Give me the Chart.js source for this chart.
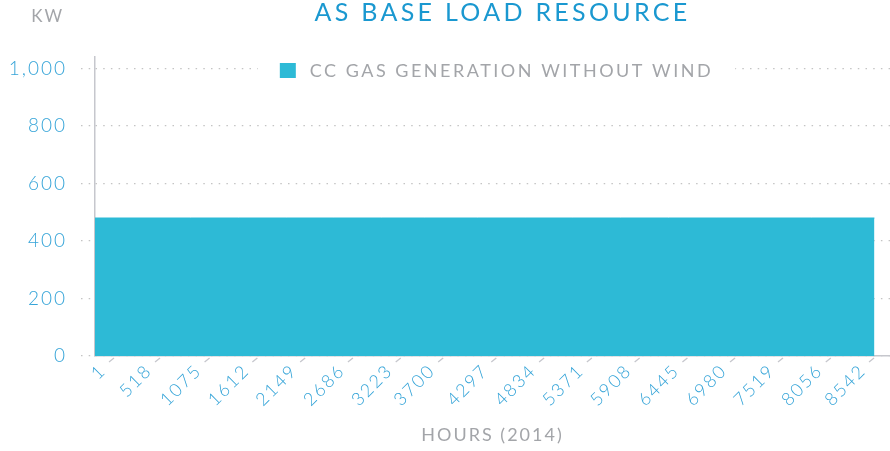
<!DOCTYPE html>
<html>
<head>
<meta charset="utf-8">
<script src="https://cdn.jsdelivr.net/npm/chart.js@4.4.1/dist/chart.umd.min.js"></script>
<style>
  html, body { margin: 0; padding: 0; background: #fff; }
</style>
</head>
<body>
<canvas id="chart" width="890" height="451"></canvas>
<script>
const chartTitle = 'AS BASE LOAD RESOURCE'
const seriesLabel = 'CC GAS GENERATION WITHOUT WIND'
const yUnit = 'KW'
const xTitle = 'HOURS (2014)'

// hour labels shown under the x axis
const hourTicks = [1, 518, 1075, 1612, 2149, 2686, 3223, 3700, 4297, 4834, 5371, 5908, 6445, 6980, 7519, 8056, 8542]
// gas generation (kW) by hour - flat all year
const hours = [1, 518, 1075, 1612, 2149, 2686, 3223, 3700, 4297, 4834, 5371, 5908, 6445, 6980, 7519, 8056, 8542, 8760]
const kw = [480, 480, 480, 480, 480, 480, 480, 480, 480, 480, 480, 480, 480, 480, 480, 480, 480, 480]
const yTicks = [0, 200, 400, 600, 800, 1000]

const FONT = 'Lato'
const AREA = '#2dbad6'
const TITLE_BLUE = '#1a98d0'
const TICK_BLUE = '#35a4d8'
const GRAY_TEXT = '#a3a5a9'
const AXIS = '#c6c7cd'
const GRID = '#c4c4c4'

// wide tracking like the original, a bit wider for the title
const spacing = {
  id: 'spacing',
  beforeLayout: chart => { chart.ctx.letterSpacing = '2px' },
  beforeDraw: chart => {
    chart.ctx.letterSpacing = '2px'
    const tb = chart.titleBlock
    if (tb && !tb._wrapped) {
      const draw = tb.draw
      tb.draw = function () {
        const ctx = this.ctx
        ctx.save()
        ctx.letterSpacing = '3.3px'
        ctx.translate(10, 0)
        draw.call(this)
        ctx.restore()
      }
      tb._wrapped = true
    }
  }
}

// legend box, unit label and the slanted x tick marks
const extras = {
  id: 'extras',
  afterDraw: chart => {
    const { ctx, chartArea: area, scales } = chart
    const xs = scales.x
    const ys = scales.y

    ctx.save()
    ctx.strokeStyle = AXIS
    ctx.lineWidth = 1.3
    hourTicks.forEach(v => {
      const px = xs.getPixelForValue(v)
      ctx.beginPath()
      ctx.moveTo(px + 14, xs.top + 6)
      ctx.lineTo(px + 19, xs.top + 2)
      ctx.stroke()
    })
    ctx.restore()

    ctx.save()
    ctx.letterSpacing = '2.5px'
    ctx.font = `18px ${FONT}`
    const w = ctx.measureText(seriesLabel).width
    const total = 16 + 14 + w
    const x0 = (area.left + area.right) / 2 + 4 - total / 2
    const yc = area.top + 13.5
    ctx.fillStyle = '#fff'
    ctx.fillRect(x0 - 22, yc - 10, total + 44, 20)
    ctx.fillStyle = AREA
    ctx.fillRect(x0, yc - 7.5, 16, 15)
    ctx.fillStyle = GRAY_TEXT
    ctx.textBaseline = 'middle'
    ctx.fillText(seriesLabel, x0 + 30, yc + 1)

    ctx.letterSpacing = '2px'
    ctx.font = `17px ${FONT}`
    ctx.textAlign = 'right'
    ctx.fillText(yUnit, ys.right - 31, 17)
    ctx.restore()
  }
}

new Chart(document.getElementById('chart'), {
  type: 'line',
  data: {
    datasets: [{
      label: seriesLabel,
      data: hours.map((h, i) => ({ x: h, y: kw[i] })),
      fill: 'origin',
      backgroundColor: AREA,
      borderColor: AREA,
      borderWidth: 1,
      pointRadius: 0,
      tension: 0
    }]
  },
  options: {
    responsive: false,
    animation: false,
    layout: { padding: 0 },
    plugins: {
      legend: { display: false },
      tooltip: { enabled: false },
      title: {
        display: true,
        text: chartTitle,
        fullSize: false,
        color: TITLE_BLUE,
        font: { family: FONT, size: 25, weight: 'normal', lineHeight: 1 },
        padding: { top: 0, bottom: 32 }
      }
    },
    scales: {
      x: {
        type: 'linear',
        min: 1,
        max: 8935,
        afterBuildTicks: s => { s.ticks = hourTicks.map(v => ({ value: v })) },
        afterFit: s => { s.height = 95 },
        ticks: {
          autoSkip: false,
          minRotation: 45,
          maxRotation: 45,
          padding: 4,
          labelOffset: 8,
          color: TICK_BLUE,
          font: { family: FONT, size: 18, weight: 300 },
          callback: v => String(v)
        },
        grid: { display: false, drawTicks: false },
        border: { display: true, color: AXIS, width: 1.5 },
        title: {
          display: true,
          text: xTitle,
          color: GRAY_TEXT,
          font: { family: FONT, size: 18 },
          padding: { top: 0, bottom: 5 }
        }
      },
      y: {
        min: 0,
        max: 1040,
        afterBuildTicks: s => { s.ticks = yTicks.map(v => ({ value: v })) },
        afterFit: s => { s.width = 95 },
        ticks: {
          padding: 14,
          color: TICK_BLUE,
          font: { family: FONT, size: 19, weight: 300 },
          callback: v => v.toLocaleString('en-US')
        },
        grid: {
          color: GRID,
          lineWidth: 1.2,
          tickLength: 14,
          tickColor: GRID,
          tickBorderDash: [1.5, 6.2]
        },
        border: { display: true, color: AXIS, width: 1.5, dash: [1.5, 6.2] }
      }
    }
  },
  plugins: [spacing, extras]
})
</script>
</body>
</html>
